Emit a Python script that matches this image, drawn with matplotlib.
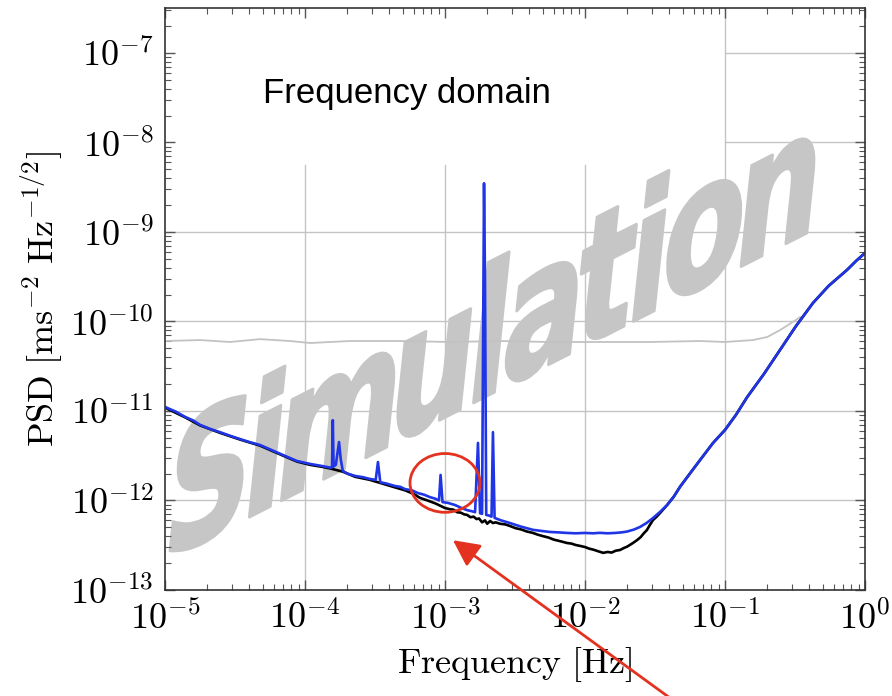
import numpy as np
import matplotlib
matplotlib.use("Agg")
import matplotlib.pyplot as plt
import matplotlib.ticker as mticker
from matplotlib.textpath import TextPath
from matplotlib.font_manager import FontProperties
from matplotlib.patches import PathPatch, Ellipse
from matplotlib.transforms import Affine2D
from matplotlib.path import Path

plt.rcParams["mathtext.fontset"] = "cm"

# Acceleration PSD with the injected lines (blue), without them (black)
blue_freq = [1.0e-5, 1.2e-5, 1.39e-5, 1.6e-5, 1.78e-5, 2.1e-5, 2.47e-5, 2.9e-5, 3.43e-5, 4.0e-5,
             4.77e-5, 5.8e-5, 6.97e-5, 8.77e-5, 1.09e-4, 1.32e-4, 1.53e-4, 1.56e-4, 1.58e-4, 1.60e-4,
             1.66e-4, 1.75e-4, 1.80e-4, 1.86e-4, 2.0e-4, 2.28e-4, 2.6e-4, 2.91e-4, 3.2e-4, 3.32e-4,
             3.45e-4, 3.8e-4, 4.4e-4, 4.8e-4, 5.18e-4, 5.8e-4, 6.41e-4, 7.1e-4, 7.81e-4, 8.5e-4,
             9.06e-4, 9.3e-4, 9.6e-4, 1.05e-3, 1.18e-3, 1.3e-3, 1.44e-3, 1.55e-3, 1.64e-3, 1.72e-3,
             1.78e-3, 1.84e-3, 1.90e-3, 1.93e-3, 1.97e-3, 2.06e-3, 2.15e-3, 2.20e-3, 2.26e-3, 2.47e-3,
             2.91e-3, 3.5e-3, 4.25e-3, 5.0e-3, 5.62e-3, 6.5e-3, 7.44e-3, 8.6e-3, 1.0e-2, 1.14e-2,
             1.28e-2, 1.45e-2, 1.64e-2, 1.82e-2, 2.0e-2, 2.25e-2, 2.47e-2, 2.75e-2, 3.06e-2, 3.45e-2,
             3.86e-2, 4.3e-2, 4.77e-2, 5.6e-2, 6.6e-2, 8.2e-2, 0.1, 0.12, 0.144, 0.19,
             0.247, 0.32, 0.425, 0.55, 0.743, 0.87, 1.0]
blue_psd = [1.11e-11, 9.8e-12, 8.6e-12, 7.8e-12, 7.0e-12, 6.3e-12, 5.8e-12, 5.3e-12, 4.86e-12, 4.5e-12,
            4.17e-12, 3.65e-12, 3.22e-12, 2.76e-12, 2.56e-12, 2.43e-12, 2.32e-12, 2.35e-12, 7.9e-12, 2.4e-12,
            2.5e-12, 4.5e-12, 2.9e-12, 2.15e-12, 2.0e-12, 1.88e-12, 1.82e-12, 1.74e-12, 1.7e-12, 2.69e-12,
            1.6e-12, 1.55e-12, 1.45e-12, 1.42e-12, 1.34e-12, 1.3e-12, 1.21e-12, 1.16e-12, 1.09e-12, 1.05e-12,
            1.0e-12, 1.93e-12, 9.6e-13, 9.4e-13, 8.9e-13, 8.3e-13, 7.8e-13, 7.6e-13, 7.4e-13, 4.4e-12,
            7.2e-13, 7.1e-13, 3.5e-9, 3.0e-10, 6.9e-13, 6.8e-13, 6.6e-13, 5.8e-12, 6.4e-13, 6.05e-13,
            5.6e-13, 5.1e-13, 4.7e-13, 4.55e-13, 4.45e-13, 4.4e-13, 4.34e-13, 4.3e-13, 4.34e-13, 4.3e-13,
            4.35e-13, 4.3e-13, 4.34e-13, 4.4e-13, 4.5e-13, 4.75e-13, 5.06e-13, 5.6e-13, 6.37e-13, 7.5e-13,
            8.9e-13, 1.1e-12, 1.42e-12, 1.99e-12, 2.8e-12, 4.38e-12, 6.14e-12, 9.1e-12, 1.43e-11, 2.6e-11,
            4.8e-11, 8.8e-11, 1.61e-10, 2.5e-10, 3.76e-10, 4.8e-10, 5.82e-10]

black_freq = [1.0e-5, 1.39e-5, 1.78e-5, 2.47e-5, 3.43e-5, 4.77e-5, 6.97e-5, 8.77e-5, 1.09e-4, 1.32e-4,
              1.53e-4, 1.86e-4, 2.28e-4, 2.91e-4, 3.8e-4, 4.4e-4, 5.18e-4, 6.0e-4, 6.62e-4, 7.5e-4,
              8.5e-4, 1.0e-3, 1.08e-3, 1.15e-3, 1.22e-3, 1.3e-3, 1.37e-3, 1.44e-3, 1.52e-3, 1.6e-3,
              1.68e-3, 1.75e-3, 1.84e-3, 1.93e-3, 2.0e-3, 2.1e-3, 2.2e-3, 2.3e-3, 2.47e-3, 2.7e-3,
              2.9e-3, 3.2e-3, 3.5e-3, 3.85e-3, 4.25e-3, 4.6e-3, 5.0e-3, 5.5e-3, 6.0e-3, 6.7e-3,
              7.44e-3, 8.0e-3, 8.6e-3, 9.3e-3, 1.0e-2, 1.07e-2, 1.15e-2, 1.25e-2, 1.35e-2, 1.45e-2,
              1.55e-2, 1.66e-2, 1.78e-2, 1.9e-2, 2.0e-2, 2.1e-2, 2.2e-2, 2.35e-2, 2.5e-2, 2.63e-2,
              2.77e-2, 2.9e-2, 3.06e-2, 3.25e-2, 3.45e-2, 3.86e-2, 4.3e-2, 4.77e-2, 5.6e-2, 6.6e-2,
              8.2e-2, 0.1, 0.12, 0.144, 0.19, 0.247, 0.32, 0.425, 0.55, 0.743,
              0.87, 1.0]
black_psd = [1.09e-11, 8.5e-12, 6.9e-12, 5.7e-12, 4.8e-12, 4.1e-12, 3.17e-12, 2.72e-12, 2.5e-12, 2.38e-12,
             2.27e-12, 2.1e-12, 1.84e-12, 1.7e-12, 1.5e-12, 1.4e-12, 1.3e-12, 1.18e-12, 1.07e-12, 1.0e-12,
             9.3e-13, 8.24e-13, 8.0e-13, 7.9e-13, 7.4e-13, 7.3e-13, 7.0e-13, 6.9e-13, 6.5e-13, 6.6e-13,
             6.2e-13, 6.3e-13, 5.7e-13, 6.0e-13, 5.5e-13, 5.9e-13, 5.6e-13, 5.7e-13, 5.5e-13, 5.4e-13,
             5.2e-13, 4.9e-13, 4.75e-13, 4.5e-13, 4.34e-13, 4.15e-13, 4.0e-13, 3.85e-13, 3.65e-13, 3.5e-13,
             3.35e-13, 3.3e-13, 3.18e-13, 3.1e-13, 3.02e-13, 2.9e-13, 2.82e-13, 2.7e-13, 2.6e-13, 2.66e-13,
             2.62e-13, 2.75e-13, 2.8e-13, 2.95e-13, 3.05e-13, 3.2e-13, 3.35e-13, 3.6e-13, 3.9e-13, 4.3e-13,
             4.68e-13, 5.3e-13, 6.05e-13, 6.6e-13, 7.3e-13, 8.9e-13, 1.1e-12, 1.42e-12, 1.99e-12, 2.8e-12,
             4.38e-12, 6.14e-12, 9.1e-12, 1.43e-11, 2.6e-11, 4.8e-11, 8.8e-11, 1.61e-10, 2.5e-10, 3.76e-10,
             4.8e-10, 5.82e-10]

# Reference noise level (grey)
gray_freq = [1.0e-5, 1.78e-5, 2.91e-5, 4.77e-5, 7.81e-5, 1.09e-4, 2.1e-4, 4.77e-4, 1.09e-3, 2.47e-3,
             5.62e-3, 1.28e-2, 2.91e-2, 6.62e-2, 0.1, 0.158, 0.2, 0.247, 0.306, 0.344]
gray_psd = [6.05e-11, 6.2e-11, 5.9e-11, 6.35e-11, 6.05e-11, 5.75e-11, 6.05e-11, 6.05e-11, 5.9e-11, 6.05e-11,
            5.9e-11, 5.9e-11, 5.9e-11, 6.05e-11, 5.9e-11, 6.2e-11, 6.7e-11, 8.0e-11, 9.9e-11, 1.12e-10]

x_ticks = [1e-5, 1e-4, 1e-3, 1e-2, 1e-1, 1e0]
x_tick_labels = [r"$10^{-5}$", r"$10^{-4}$", r"$10^{-3}$", r"$10^{-2}$", r"$10^{-1}$", r"$10^{0}$"]
y_ticks = [1e-13, 1e-12, 1e-11, 1e-10, 1e-9, 1e-8, 1e-7]
y_tick_labels = [r"$10^{-13}$", r"$10^{-12}$", r"$10^{-11}$", r"$10^{-10}$",
                 r"$10^{-9}$", r"$10^{-8}$", r"$10^{-7}$"]

red = "#e3321f"
word = "Simulation"

fig = plt.figure(figsize=(8.92, 6.96), dpi=100)
ax = fig.add_axes([165 / 892, 106 / 696, 700 / 892, 582 / 696])

ax.loglog(gray_freq, gray_psd, color="#c2c2c2", lw=1.3, zorder=1.9)
ax.loglog(black_freq, black_psd, color="black", lw=1.9, zorder=2)
ax.loglog(blue_freq, blue_psd, color="#1f35e6", lw=1.9, zorder=2.2)

ax.set_xlim(1e-5, 1.0)
ax.set_ylim(1e-13, 3.18e-7)

ax.set_xticks(x_ticks, labels=x_tick_labels)
ax.set_yticks(y_ticks, labels=y_tick_labels)
ax.xaxis.set_minor_locator(mticker.LogLocator(base=10, subs=np.arange(2, 10)))
ax.yaxis.set_minor_locator(mticker.LogLocator(base=10, subs=np.arange(2, 10), numticks=20))
ax.xaxis.set_minor_formatter(mticker.NullFormatter())
ax.yaxis.set_minor_formatter(mticker.NullFormatter())
ax.tick_params(which="both", direction="in", top=True, right=True, color="#555555")
ax.tick_params(which="major", length=7, width=1.0, labelsize=26, pad=8)
ax.tick_params(which="minor", length=4, width=0.8)
for sp in ax.spines.values():
    sp.set_color("#333333")
    sp.set_linewidth(1.2)

# grid, left open under the title area
for xt in x_ticks[1:-1]:
    top = 0.73 if xt < 0.05 else 1.0
    ax.axvline(xt, ymax=top, color="#c4c4c4", lw=1.0, zorder=0.8)
for yt in y_ticks[1:]:
    left = 0.8 if yt > 5e-9 else 0.0
    ax.axhline(yt, xmin=left, color="#c4c4c4", lw=1.0, zorder=0.8)

ax.set_xlabel(r"$\mathrm{Frequency\ [Hz]}$", fontsize=26, labelpad=6)
ax.set_ylabel(r"$\mathrm{PSD\ [ms^{-2}\ Hz^{-1/2}]}$", fontsize=26, labelpad=4)

ax.text(0.14, 0.837, "Frequency domain", transform=ax.transAxes, fontsize=25,
        family="Liberation Sans", va="baseline")

# watermark: bold glyphs slightly widened in place, word stretched, sheared and tilted
fp = FontProperties(family="DejaVu Sans", weight="bold")
glyphs = []
for i, ch in enumerate(word):
    right = TextPath((0, 0), word[:i + 1], size=1, prop=fp).get_extents().x1
    g = TextPath((0, 0), ch, size=1, prop=fp)
    ge = g.get_extents()
    origin = right - ge.x1
    mid = 0.5 * (ge.x0 + ge.x1)
    v = g.vertices.copy()
    v[:, 0] = origin + mid + (v[:, 0] - mid) * 1.12
    glyphs.append(Path(v, g.codes))
wm_path = Path.make_compound_path(*glyphs)
shape = Affine2D().scale(1, 1.3).skew_deg(33, 0).rotate_deg(27)
ext = shape.transform_path(wm_path).get_extents()
k = 644 / ext.width
place = shape.frozen().scale(k).translate(170 - ext.x0 * k, 145 - ext.y0 * k)
ax.add_artist(PathPatch(wm_path, transform=place, fc="#c6c6c6", ec="#c6c6c6", lw=2,
                        joinstyle="round", zorder=1.5))

ax.add_patch(Ellipse((0.4, 0.184), 0.1, 0.101, transform=ax.transAxes, fill=False,
                     ec=red, lw=2, zorder=4))
ax.annotate("", xy=(1.14e-3, 3.6e-13), xycoords="data", xytext=(681, -10),
            textcoords="figure pixels", annotation_clip=False,
            arrowprops=dict(arrowstyle="-|>,head_length=0.8,head_width=0.4", color=red,
                            lw=2, mutation_scale=20, shrinkA=0, shrinkB=0), zorder=4)

fig.savefig("out.png", dpi=100)
